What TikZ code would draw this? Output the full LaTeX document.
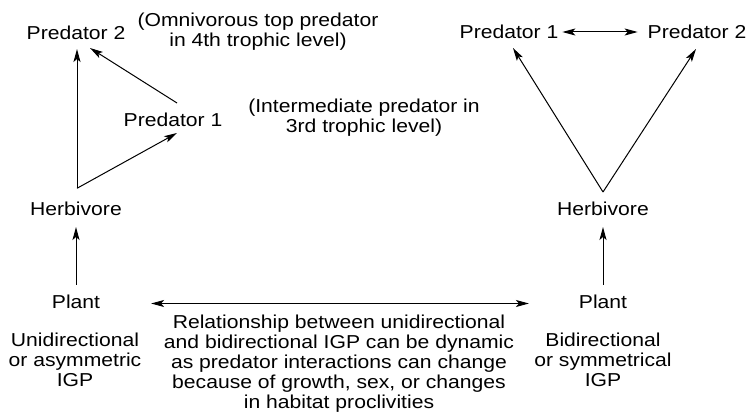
\documentclass[tikz,border=0pt]{standalone}
\usepackage{fontspec}
\setmainfont{Liberation Sans}[FakeStretch=1.13]
\usetikzlibrary{arrows.meta}
\begin{document}
\begin{tikzpicture}[x=1pt,y=-1pt,
  lbl/.style={inner sep=0pt,outer sep=0pt,text height=13.4pt,text depth=0pt,font=\fontsize{18.7}{20}\selectfont},
  para/.style={inner sep=0pt,outer sep=0pt,align=center,font=\fontsize{18.7}{20}\selectfont},
  tip/.tip={Stealth[length=13pt,width=7pt,inset=3pt]},
  arr/.style={line width=1pt,-tip},
  darr/.style={line width=1pt,tip-tip}]
\useasboundingbox (0,0) rectangle (748,417);
% left web
\node[lbl] (lp2) at (76,33) {Predator 2};
\node[para] (omni) at (258,32) {(Omnivorous top predator\\in 4th trophic level)};
\node[lbl] (lp1) at (173,120) {Predator 1};
\node[para] (inter) at (364,118) {(Intermediate predator in\\3rd trophic level)};
\node[lbl] (lherb) at (76,209) {Herbivore};
\node[lbl] (lplant) at (76,302) {Plant};
\node[para] (uni) at (75,360) {Unidirectional\\or asymmetric\\IGP};
% right web
\node[lbl] (rp1) at (509,32) {Predator 1};
\node[lbl] (rp2) at (697,32) {Predator 2};
\node[lbl] (rherb) at (603,209) {Herbivore};
\node[lbl] (rplant) at (603,302) {Plant};
\node[para] (bi) at (603,360) {Bidirectional\\or symmetrical\\IGP};
% middle text
\node[para] (rel) at (339,364) {Relationship between unidirectional\\and bidirectional IGP can be dynamic\\as predator interactions can change\\because of growth, sex, or changes\\in habitat proclivities};
% left arrows
\draw[arr] ([xshift=1pt,yshift=14pt]lherb.north) -- ([xshift=1pt,yshift=-9.3pt]lp2.south);
\draw[arr] ([xshift=1pt,yshift=14pt]lherb.north) -- ([xshift=4pt,yshift=-6.3pt]lp1.south);
\draw[arr] ([xshift=4pt,yshift=10.3pt]lp1.north) -- ([xshift=14pt,yshift=-8.3pt]lp2.south);
\draw[arr] ([yshift=10.3pt]lplant.north) -- ([yshift=-11.3pt]lherb.south);
% right arrows
\draw[arr] ([yshift=10.3pt]rherb.north) -- ([xshift=4pt,yshift=-9.3pt]rp1.south);
\draw[arr] ([yshift=10.3pt]rherb.north) -- ([xshift=-1pt,yshift=-10.3pt]rp2.south);
\draw[darr] ([xshift=4pt]rp1.east) -- ([xshift=-10pt]rp2.west);
\draw[arr] ([yshift=10.3pt]rplant.north) -- ([yshift=-11.3pt]rherb.south);
% bottom
\draw[darr] ([xshift=51pt,yshift=-1.5pt]lplant.east) -- ([xshift=-50pt,yshift=-1.5pt]rplant.west);
\end{tikzpicture}
\end{document}
